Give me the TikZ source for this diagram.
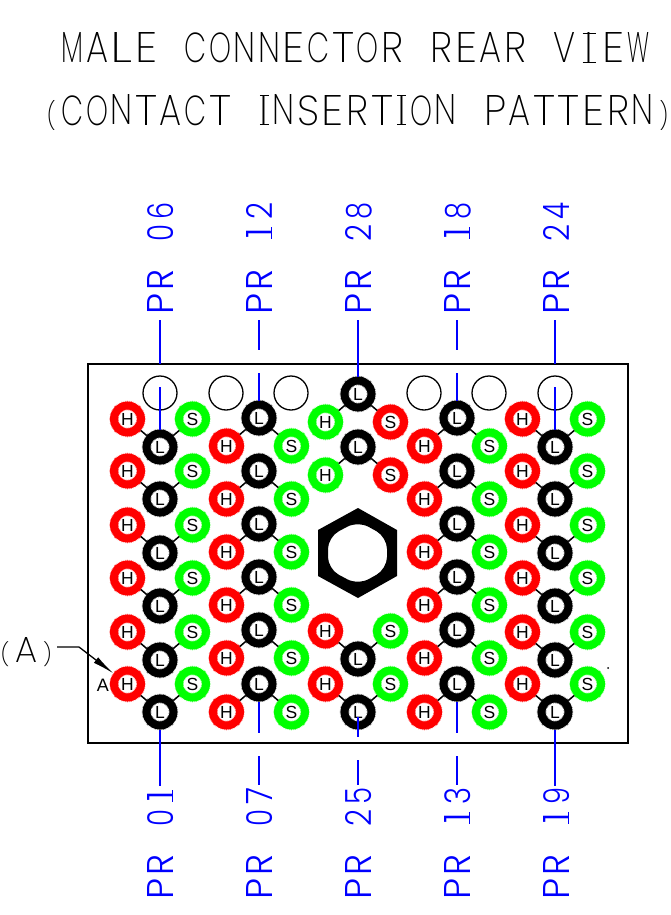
\documentclass[tikz,border=0pt]{standalone}
\usepackage{fontspec}
\usepackage{graphicx}
\usetikzlibrary{arrows.meta}
\setmainfont{Liberation Sans}
\newfontfamily\cadfont{Poppins ExtraLight}
\newfontfamily\cadfontb{Poppins Light}
\definecolor{cadred}{RGB}{255,0,0}
\definecolor{cadgreen}{RGB}{0,255,0}
\definecolor{cadblue}{RGB}{0,0,255}
\newlength\cadp \newlength\cadw \newlength\cadh \newlength\cadt \newlength\cadip \newlength\cadib
\newcommand\cadset[4]{\setlength\cadp{#1}\setlength\cadw{#2}\setlength\cadh{#3}\setlength\cadt{#4}}
\newcommand\cadbar[2]{\makebox[0pt]{\raisebox{#2}{\rule{#1}{\cadt}}}}
\newcommand\cadI{\makebox[\cadip]{\makebox[0pt]{\resizebox*{!}{\cadh}{I}}\cadbar{\cadib}{0pt}\cadbar{\cadib}{\dimexpr\cadh-\cadt\relax}}}
\newcommand\cadone{\makebox[\cadp]{\makebox[0pt]{\resizebox*{!}{\cadh}{1}}\cadbar{0.7\cadw}{0pt}}}
\newcommand\cadparen[1]{\makebox[17.7pt]{\resizebox*{9pt}{\cadh}{#1}}}
\newcommand\cadglyph[1]{\makebox[\cadp]{\resizebox*{\cadw}{\cadh}{#1}}}
\def\cadloop#1{\ifx#1\relax\else
  \ifx#1~\hspace*{\cadp}\else
  \ifx#1I\cadI\else
  \ifx#11\cadone\else
  \ifx#1(\cadparen{(}\else
  \ifx#1)\cadparen{)}\else
  \cadglyph{#1}\fi\fi\fi\fi\fi
  \expandafter\cadloop\fi}
\tikzset{
  ring/.style={circle,draw,inner sep=0pt,minimum size=27pt,line width=8pt,font=\fontsize{17.5}{18}\selectfont,text=black,
    preaction={draw,line width=9.5pt,dash pattern=on .5pt off 1pt,draw opacity=.5}},
  ringK/.style={ring,draw=black},
  ringR/.style={ring,draw=cadred},
  ringG/.style={ring,draw=cadgreen},
  tie/.style={draw=black,line width=1.5pt},
  wire/.style={draw=cadblue,line width=1.5pt},
  hole/.style={circle,draw=black,line width=1.3pt,inner sep=0pt,minimum size=34pt},
  title/.style={inner sep=0pt,anchor=base west,text=black},
  pinlabel/.style={inner sep=0pt,anchor=base west,rotate=90,text=cadblue},
}
\newcommand\cgroup[6]{%
  \node[ringK] (L#1) at (#2,#3) {L};
  \node[#5] (H#1) at ({#2-32.5},{#3+#4}) {H};
  \node[#6] (S#1) at ({#2+32.5},{#3+#4}) {S};
  \draw[tie] (H#1) -- (L#1);
  \draw[tie] (S#1) -- (L#1);
}
\newcommand\pinlab[5]{\node[pinlabel] (#1) at (#2,#3) {\cadfontb\cadset{24pt}{21pt}{26pt}{1.4pt}\cadloop #4\relax\cadset{22pt}{17pt}{26pt}{1.4pt}\cadloop #5\relax};}
\begin{document}
\begin{tikzpicture}[x=1pt,y=-1pt]
\useasboundingbox (0,0) rectangle (670,915);
\fill[white] (0,0) rectangle (670,915);
% titles
\node[title] (t1) at (60,63) {\cadfont\cadset{24.6pt}{22pt}{30pt}{1.2pt}\setlength\cadip{24.6pt}\setlength\cadib{13pt}\cadloop MALE~CONNECTOR~REAR~VIEW\relax};
\node[title] (t2) at (42.3,125) {\cadfont\cadset{24.6pt}{22pt}{30pt}{1.2pt}\setlength\cadip{14.5pt}\setlength\cadib{9pt}\cadloop (CONTACT~INSERTION~PATTERN)\relax};
% frame
\node[draw=black,line width=1.5pt,inner sep=0pt,outer sep=0pt,minimum width=540pt,minimum height=379pt,anchor=north west] (frame) at (88,364) {};
% holes
\foreach \n/\x in {a/160,b/226,c/291,d/424,e/489,f/555}{\node[hole] (hole\n) at (\x,393) {};}
% contact groups
\foreach \i/\y in {1/447,2/499,3/553,4/606,5/660,6/712}{
  \cgroup{a\i}{160}{\y}{-28}{ringR}{ringG}
  \cgroup{e\i}{555}{\y}{-28}{ringR}{ringG}
}
\foreach \i/\y in {1/418,2/471,3/524,4/577,5/630,6/684}{
  \cgroup{b\i}{259}{\y}{28}{ringR}{ringG}
  \cgroup{d\i}{457}{\y}{28}{ringR}{ringG}
}
\cgroup{c1}{358}{394}{28}{ringG}{ringR}
\cgroup{c2}{358}{447}{28}{ringG}{ringR}
\cgroup{c3}{358}{659}{-28}{ringR}{ringG}
\cgroup{c4}{358}{712}{-28}{ringR}{ringG}
% hexagon
\fill[black,even odd rule] (358,508) -- (397,530) -- (397,576) -- (358,598) -- (318,576) -- (318,530) -- cycle
  [rounded corners=12pt] (358,521) -- (387,537) -- (387,569) -- (358,585) -- (328,569) -- (328,537) -- cycle;
% labels
\pinlab{p06}{173}{316}{PR~}{06}
\pinlab{p12}{272}{316}{PR~}{12}
\pinlab{p28}{371}{316}{PR~}{28}
\pinlab{p18}{470}{316}{PR~}{18}
\pinlab{p24}{569}{316}{PR~}{24}
\pinlab{p01}{173}{901}{PR~}{01}
\pinlab{p07}{272}{901}{PR~}{07}
\pinlab{p25}{371}{901}{PR~}{25}
\pinlab{p13}{470}{901}{PR~}{13}
\pinlab{p19}{569}{901}{PR~}{19}
% wire end points
\coordinate (w06a) at (160,320); \coordinate (w06b) at (160,364); \coordinate (w06c) at (160,387);
\coordinate (w12a) at (259,320); \coordinate (w12b) at (259,350); \coordinate (w12c) at (259,373);
\coordinate (w28a) at (358,320);
\coordinate (w18a) at (457,320); \coordinate (w18b) at (457,350); \coordinate (w18c) at (457,373);
\coordinate (w24a) at (555,320); \coordinate (w24b) at (555,364); \coordinate (w24c) at (555,387);
\coordinate (w01a) at (160,786);
\coordinate (w07a) at (259,733); \coordinate (w07b) at (259,756); \coordinate (w07c) at (259,785);
\coordinate (w25a) at (358,717); \coordinate (w25b) at (358,737); \coordinate (w25c) at (358,760); \coordinate (w25d) at (358,785);
\coordinate (w13a) at (457,733); \coordinate (w13b) at (457,756); \coordinate (w13c) at (457,785);
\coordinate (w19a) at (555,786);
% wires
\draw[wire] (w06a) -- (w06b); \draw[wire] (w06c) -- (La1.north);
\draw[wire] (w12a) -- (w12b); \draw[wire] (w12c) -- (Lb1.north);
\draw[wire] (w28a) -- (Lc1.north);
\draw[wire] (w18a) -- (w18b); \draw[wire] (w18c) -- (Ld1.north);
\draw[wire] (w24a) -- (w24b); \draw[wire] (w24c) -- (Le1.north);
\draw[wire] (La6.south) -- (w01a);
\draw[wire] (Lb6.south) -- (w07a); \draw[wire] (w07b) -- (w07c);
\draw[wire] (w25a) -- (w25b); \draw[wire] (w25c) -- (w25d);
\draw[wire] (Ld6.south) -- (w13a); \draw[wire] (w13b) -- (w13c);
\draw[wire] (Le6.south) -- (w19a);
% callout
\node[inner sep=0pt,anchor=base west,text=black] (callout) at (-4,662) {\cadfont\cadset{24.6pt}{22pt}{25pt}{1.2pt}\cadloop (A)\relax};
\coordinate (bend) at (79,647);
\coordinate (calloutend) at (57,647);
\draw[draw=black,line width=1.3pt,-{Latex[length=22pt,width=7pt]}] (calloutend) -- (bend) -- (Ha6.143);
\node[inner sep=0pt,font=\fontsize{18}{19}\selectfont] (tagA) at (103,685) {A};
\fill[black] (608,668) circle (1pt);
\end{tikzpicture}
\end{document}
